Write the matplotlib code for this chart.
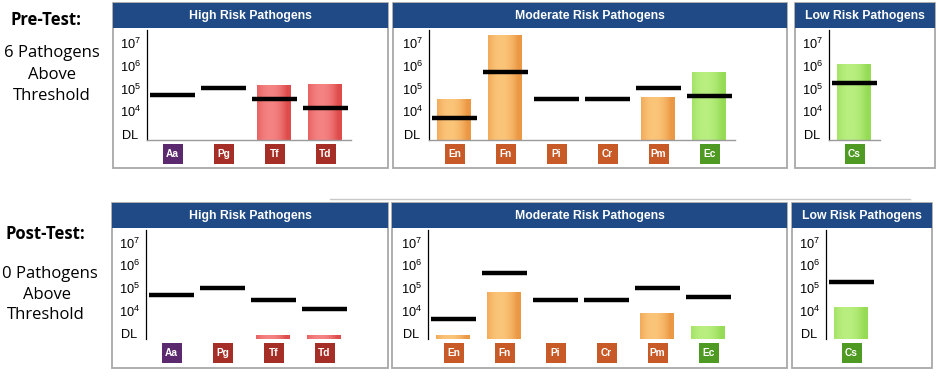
import numpy as np
import matplotlib
matplotlib.use("Agg")
import matplotlib.pyplot as plt
from matplotlib import transforms
from matplotlib.colors import to_rgb
from matplotlib.patches import Rectangle
from matplotlib.ticker import NullLocator

# ---- data (copies/mL; nan = no bar / below DL) ----
high_cats = ["Aa", "Pg", "Tf", "Td"]
mod_cats = ["En", "Fn", "Pi", "Cr", "Pm", "Ec"]
low_cats = ["Cs"]

pre_high_vals = [np.nan, np.nan, 1.5e5, 1.6e5]
pre_high_thresh = [5.0e4, 1.0e5, 3.3e4, 1.35e4]
pre_mod_vals = [3.7e4, 2.2e7, np.nan, np.nan, 4.5e4, 5.5e5]
pre_mod_thresh = [5.0e3, 5.0e5, 3.3e4, 3.3e4, 1.0e5, 4.5e4]
pre_low_vals = [1.2e6]
pre_low_thresh = [1.8e5]

post_high_vals = [np.nan, np.nan, 850, 850]
post_high_thresh = [4.8e4, 1.0e5, 2.8e4, 1.2e4]
post_mod_vals = [850, 7.2e4, np.nan, np.nan, 8.0e3, 2.3e3]
post_mod_thresh = [4.4e3, 4.4e5, 2.8e4, 2.8e4, 1.0e5, 4.0e4]
post_low_vals = [1.5e4]
post_low_thresh = [1.9e5]

tick_vals = [1e3, 1e4, 1e5, 1e6, 1e7]
tick_labels = ["DL", r"$\mathregular{10^4}$", r"$\mathregular{10^5}$",
               r"$\mathregular{10^6}$", r"$\mathregular{10^7}$"]

# ---- styles ----
W, H = 938, 378
YMIN, YMAX = 10 ** 2.75, 10 ** 7.55
HEADER = "#1f4a85"
BORDER = "#a8a8a8"
bar_style = {"red": ("#df4c4c", "#f58383"),
             "orange": ("#eb9844", "#fbc579"),
             "green": ("#96db55", "#b9ef80")}
bar_color = {"Tf": "red", "Td": "red", "Cs": "green", "Ec": "green"}
box_color = {"Aa": "#5b2a6e", "Pg": "#a52f26", "Tf": "#a52f26", "Td": "#a52f26",
             "Ec": "#4f9a22", "Cs": "#4f9a22"}

plt.rcParams["font.family"] = ["Liberation Sans", "DejaVu Sans"]

fig = plt.figure(figsize=(W / 100, H / 100), dpi=100)


def fig_rect(x0, y0, x1, y1):
    return [x0 / W, 1 - y1 / H, (x1 - x0) / W, (y1 - y0) / H]


def gradient(name, n=64):
    edge, centre = (np.array(to_rgb(k)) for k in bar_style[name])
    t = np.linspace(-1, 1, n) + 0.25
    mix = np.clip(1 - t ** 2, 0, 1)[:, None]
    return (edge + (centre - edge) * mix)[None, :, :]


def draw_panel(box, axbox, title, cats, vals, thresh, base_line):
    x0, y0, x1, y1 = box
    fig.patches.append(Rectangle((x0 / W, 1 - y1 / H), (x1 - x0) / W, (y1 - y0) / H,
                                 transform=fig.transFigure, fc="white", ec=BORDER,
                                 lw=1.3, zorder=-2))
    fig.patches.append(Rectangle((x0 / W, 1 - (y0 + 25) / H), (x1 - x0) / W, 25 / H,
                                 transform=fig.transFigure, fc=HEADER, ec="none",
                                 zorder=-1))
    fig.text((x0 + x1) / 2 / W, 1 - (y0 + 13) / H, title, color="white",
             fontsize=8.8, fontweight="bold", ha="center", va="center")

    ax = fig.add_axes(fig_rect(*axbox))
    ax.patch.set_alpha(0)
    ax.set_yscale("log")

    x = np.arange(len(cats))
    bw = 0.67
    for i, c in enumerate(cats):
        v = vals[i]
        if np.isnan(v):
            continue
        ax.imshow(gradient(bar_color.get(c, "orange")), aspect="auto",
                  extent=(x[i] - bw / 2, x[i] + bw / 2, YMIN, v),
                  interpolation="bilinear", zorder=2)
    ax.hlines(thresh, x - 0.45, x + 0.45, colors="black", lw=3.2, zorder=3)

    ax.set_ylim(YMIN, YMAX)
    ax.set_xlim(-0.5, len(cats) - 0.5)
    ax.yaxis.set_minor_locator(NullLocator())
    ax.set_yticks(tick_vals)
    ax.set_yticklabels(tick_labels)
    ax.set_xticks([])
    ax.tick_params(axis="y", length=0, pad=12, labelsize=9.2)
    for lbl in ax.get_yticklabels():
        lbl.set_horizontalalignment("center")
    for s in ["top", "right"]:
        ax.spines[s].set_visible(False)
    ax.spines["left"].set_linewidth(0.9)
    if base_line:
        ax.spines["bottom"].set_color("#9a9a9a")
        ax.spines["bottom"].set_linewidth(1.0)
    else:
        ax.spines["bottom"].set_visible(False)

    # category label boxes under the axis
    ah = axbox[3] - axbox[1]
    trans = transforms.blended_transform_factory(ax.transData, ax.transAxes)
    for i, c in enumerate(cats):
        ax.add_patch(Rectangle((x[i] - 10 / 51, -(4 + 20) / ah), 20 / 51, 20 / ah,
                               transform=trans, fc=box_color.get(c, "#c85a28"),
                               ec="none", clip_on=False))
        ax.text(x[i], -14 / ah, c, transform=trans, color="white", fontsize=7.3,
                fontweight="bold", ha="center", va="center")
    return ax


# separator between the two rows
fig.add_artist(plt.Line2D([330 / W, 910 / W], [1 - 199 / H, 1 - 199 / H],
                          color="#c8c8c8", lw=1.0))

# pre-test row
draw_panel((113, 3, 388, 168), (147, 30, 351, 140), "High Risk Pathogens",
           high_cats, pre_high_vals, pre_high_thresh, True)
draw_panel((393, 3, 787, 168), (429, 30, 735, 140), "Moderate Risk Pathogens",
           mod_cats, pre_mod_vals, pre_mod_thresh, True)
draw_panel((795, 3, 935, 168), (829, 30, 880, 140), "Low Risk Pathogens",
           low_cats, pre_low_vals, pre_low_thresh, True)

# post-test row
draw_panel((112, 203, 388, 368), (146, 230, 350, 339), "High Risk Pathogens",
           high_cats, post_high_vals, post_high_thresh, False)
draw_panel((392, 203, 787, 368), (428, 230, 734, 339), "Moderate Risk Pathogens",
           mod_cats, post_mod_vals, post_mod_thresh, False)
draw_panel((792, 203, 932, 368), (826, 230, 877, 339), "Low Risk Pathogens",
           low_cats, post_low_vals, post_low_thresh, False)

# left-hand captions
side = dict(family=["Open Sans", "DejaVu Sans"], fontsize=12, ha="center", va="center")
fig.text(46 / W, 1 - 20 / H, "Pre-Test:", fontweight="bold", **side)
fig.text(52 / W, 1 - 53 / H, "6 Pathogens", **side)
fig.text(52 / W, 1 - 75 / H, "Above", **side)
fig.text(52 / W, 1 - 96 / H, "Threshold", **side)
fig.text(45.5 / W, 1 - 234 / H, "Post-Test:", fontweight="bold", **side)
fig.text(50 / W, 1 - 274 / H, "0 Pathogens", **side)
fig.text(47 / W, 1 - 295 / H, "Above", **side)
fig.text(45.5 / W, 1 - 315 / H, "Threshold", **side)

fig.savefig("out.png", dpi=100, facecolor="white")
